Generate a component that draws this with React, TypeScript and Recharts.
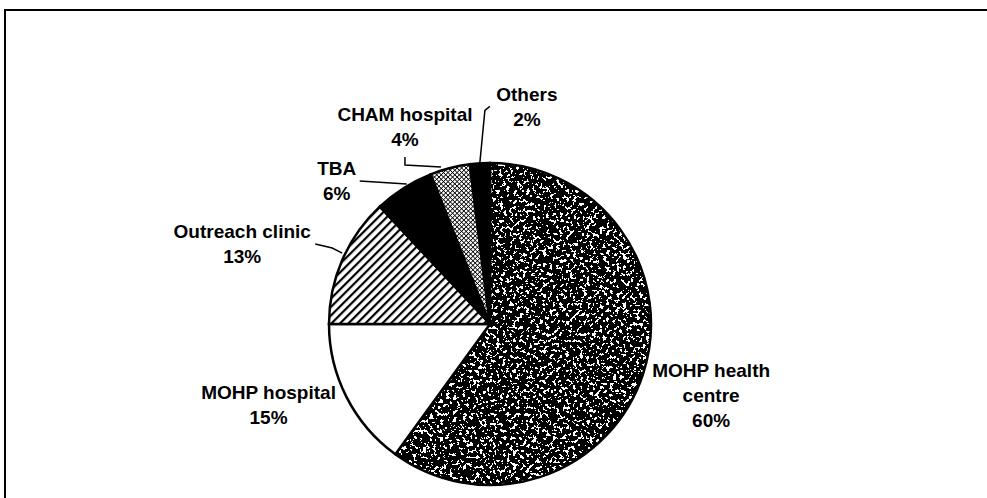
import React from 'react'
import { Cell, Pie, PieChart } from 'recharts'

// where women went for care, share of responses (%)
const categories = [
  'MOHP health centre',
  'MOHP hospital',
  'Outreach clinic',
  'TBA',
  'CHAM hospital',
  'Others',
]
const shares = [60, 15, 13, 6, 4, 2]

const data = categories.map((name, i) => ({ name, value: shares[i] }))

// fills per slice (patterns are defined in <defs> below)
const fills = [
  'url(#speckle)',
  '#ffffff',
  'url(#hatch)',
  '#000000',
  'url(#checks)',
  '#000000',
]

// label placement relative to the slice's outer edge at mid angle
// dx/dy -> first text baseline, leader -> polyline points, wrap -> words on line 1
const placement = [
  { dx: 68, dy: 3, wrap: 2, leader: null },
  { dx: -78, dy: 2, wrap: 2, leader: null },
  { dx: -100, dy: -22, wrap: 2, leader: [[0, -7], [-10, -12], [-27, -16]] },
  { dx: -67, dy: -13, wrap: 1, leader: [[3, -4], [-44, -7]] },
  { dx: -45, dy: -47, wrap: 2, leader: [[-9, -1], [-45, -3], [-45, -11]] },
  { dx: 47, dy: -62, wrap: 1, leader: [[0, -1], [5, -53], [10, -57]] },
]

const RADIAN = Math.PI / 180
const LINE_H = 25

const threshold = Array.from({ length: 100 }, (_, i) => (i < 60 ? 0 : 1)).join(' ')

const renderLabel = (props: any) => {
  const { cx, cy, midAngle, outerRadius, index } = props
  const ex = cx + outerRadius * Math.cos(-midAngle * RADIAN)
  const ey = cy + outerRadius * Math.sin(-midAngle * RADIAN)
  const p = placement[index]
  const words = categories[index].split(' ')
  const lines = [words.slice(0, p.wrap).join(' ')]
  if (words.length > p.wrap) lines.push(words.slice(p.wrap).join(' '))
  lines.push(`${shares[index]}%`)
  const tx = ex + p.dx
  return (
    <g key={`label-${index}`}>
      {p.leader && (
        <polyline
          points={p.leader.map(([x, y]) => `${ex + x},${ey + y}`).join(' ')}
          fill='none'
          stroke='#000'
          strokeWidth={1.5}
        />
      )}
      <text
        x={tx}
        y={ey + p.dy}
        textAnchor='middle'
        fontFamily="'Liberation Sans', Arial, sans-serif"
        fontWeight='bold'
        fontSize={19}
        fill='#000'
      >
        {lines.map((l, i) => (
          <tspan key={i} x={tx} dy={i === 0 ? 0 : LINE_H}>
            {l}
          </tspan>
        ))}
      </text>
    </g>
  )
}

const App = () => {
  return (
    <div style={{ position: 'fixed', left: 0, top: 0, width: 987, height: 498, background: '#fff' }}>
      {/* frame: only the top and left edges fall inside the view */}
      <svg
        width={987}
        height={498}
        style={{ position: 'absolute', left: 0, top: 0, display: 'block' }}
      >
        <line x1={5} y1={10} x2={987} y2={10} stroke='#000' strokeWidth={2} />
        <line x1={5} y1={9} x2={5} y2={498} stroke='#000' strokeWidth={2} />
      </svg>
      <PieChart
        width={900}
        height={498}
        margin={{ top: 0, right: 0, bottom: 0, left: 0 }}
        style={{ position: 'absolute', left: 0, top: 0 }}
      >
        <defs>
          <filter
            id='grain'
            x='0'
            y='0'
            width='987'
            height='498'
            filterUnits='userSpaceOnUse'
            colorInterpolationFilters='sRGB'
          >
            <feTurbulence
              type='fractalNoise'
              baseFrequency='0.3'
              numOctaves={4}
              seed={7}
              result='noise'
            />
            <feColorMatrix
              in='noise'
              type='matrix'
              values='1 0 0 0 0  1 0 0 0 0  1 0 0 0 0  0 0 0 0 1'
              result='grey'
            />
            <feComponentTransfer in='grey'>
              <feFuncR type='discrete' tableValues={threshold} />
              <feFuncG type='discrete' tableValues={threshold} />
              <feFuncB type='discrete' tableValues={threshold} />
            </feComponentTransfer>
          </filter>
          <pattern id='speckle' patternUnits='userSpaceOnUse' x='0' y='0' width='987' height='498'>
            <rect width='987' height='498' fill='#fff' filter='url(#grain)' />
          </pattern>
          <pattern
            id='hatch'
            patternUnits='userSpaceOnUse'
            width='6'
            height='6'
            patternTransform='rotate(45)'
          >
            <rect width='6' height='6' fill='#fff' />
            <rect width='2.2' height='6' fill='#000' />
          </pattern>
          <pattern
            id='checks'
            patternUnits='userSpaceOnUse'
            width='3.2'
            height='3.2'
            patternTransform='rotate(45)'
          >
            <rect width='3.2' height='3.2' fill='#fff' />
            <rect width='0.8' height='3.2' fill='#000' />
            <rect width='3.2' height='0.8' fill='#000' />
          </pattern>
        </defs>
        <Pie
          data={data}
          dataKey='value'
          nameKey='name'
          cx={490}
          cy={324}
          outerRadius={161}
          startAngle={90}
          endAngle={-270}
          stroke='#000'
          strokeWidth={2.5}
          label={renderLabel}
          labelLine={false}
          isAnimationActive={false}
        >
          {data.map((d, i) => (
            <Cell key={d.name} fill={fills[i]} />
          ))}
        </Pie>
      </PieChart>
    </div>
  )
}

export default App
